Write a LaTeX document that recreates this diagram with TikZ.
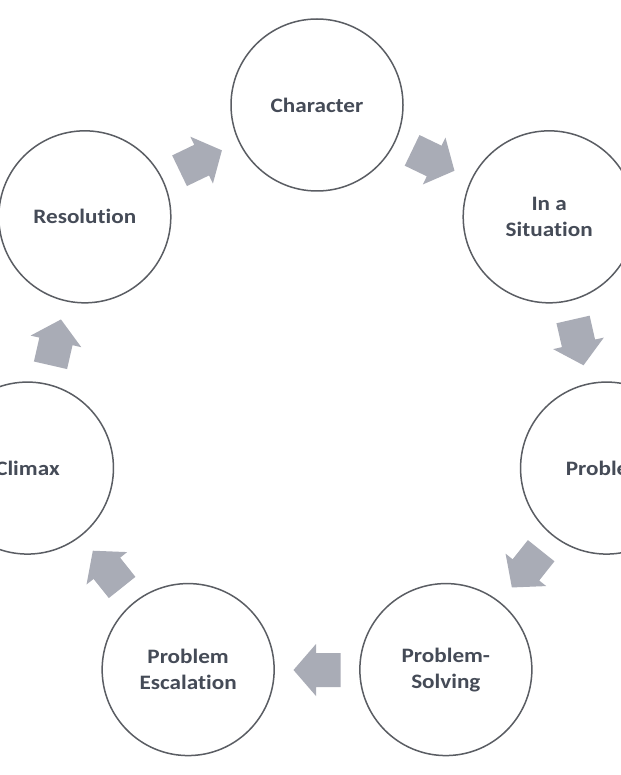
\documentclass[tikz,border=0pt]{standalone}
\usepackage{fontspec}
\setmainfont{Carlito}[FakeStretch=1.13,Ligatures=NoCommon]
\usetikzlibrary{calc}
\definecolor{ringcol}{HTML}{5A5D63}
\definecolor{txtcol}{HTML}{454B57}
\definecolor{arrcol}{HTML}{A9ACB6}
\begin{document}
\begin{tikzpicture}[x=1pt,y=1pt,
  stage/.style={circle,draw=ringcol,line width=1.5pt,fill=white,minimum size=172pt,inner sep=0pt,
    text=txtcol,font=\fontsize{20.5}{26}\selectfont\bfseries,align=center},
  flowarrow/.style={fill=arrcol,draw=none}]
\useasboundingbox (0,0) rectangle (620,-775);
\fill[white] (0,0) rectangle (620,-775);
\coordinate (c) at (317,-402);
\node[stage] (character)  at ($(c)+(90:297)$) {Character};
\node[stage] (situation)  at ($(c)+(38.571:297)$) {In a\\Situation};
\node[stage] (problem)    at ($(c)+(-12.857:297)$) {Problem};
\node[stage] (solving)    at ($(c)+(-64.286:297)$) {Problem-\\Solving};
\node[stage] (escalation) at ($(c)+(-115.714:297)$) {Problem\\Escalation};
\node[stage] (climax)     at ($(c)+(-167.143:297)$) {Climax};
\node[stage] (resolution) at ($(c)+(141.429:297)$) {Resolution};
\coordinate (a1) at ($(c)+(64.286:268)$);
\coordinate (a2) at ($(c)+(12.857:268)$);
\coordinate (a3) at ($(c)+(-38.571:268)$);
\coordinate (a4) at ($(c)+(-90:268)$);
\coordinate (a5) at ($(c)+(-141.429:268)$);
\coordinate (a6) at ($(c)+(167.143:268)$);
\coordinate (a7) at ($(c)+(115.714:268)$);
\foreach \p/\r in {a1/-25.714,a2/-77.143,a3/-128.571,a4/180,a5/128.571,a6/77.143,a7/25.714}{
  \fill[flowarrow,shift={(\p)},rotate=\r]
    (-23.5,-17) -- (1,-17) -- (1,-26) -- (23.5,0) -- (1,26) -- (1,17) -- (-23.5,17) -- cycle;
}
\end{tikzpicture}
\end{document}
